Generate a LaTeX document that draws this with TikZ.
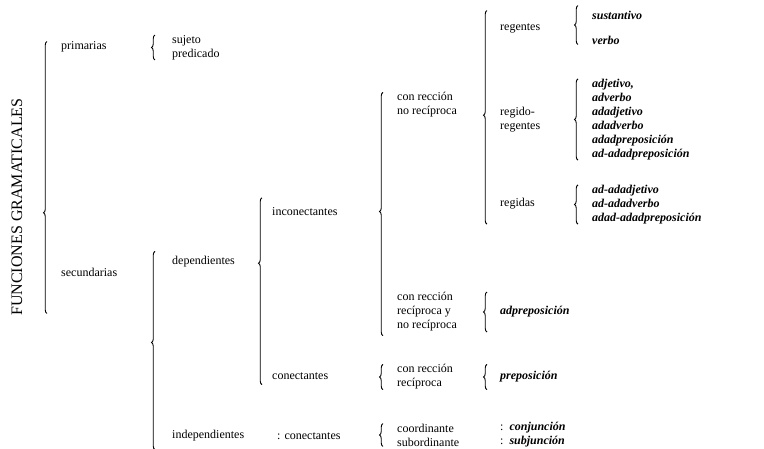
\documentclass[tikz,border=0pt]{standalone}
\usepackage{fontspec}
\setmainfont{Liberation Serif}
\usetikzlibrary{decorations.pathreplacing,calc}

\tikzset{
  etiq/.style={anchor=west, inner sep=0pt, align=left, font=\fontsize{12}{14}\selectfont},
  clase/.style={etiq, font=\fontsize{12}{14}\selectfont\bfseries\itshape},
  llave/.style={decorate, decoration={brace, amplitude=3.5pt, aspect=#1}, line width=0.9pt},
  llave/.default=0.5
}

\begin{document}
\begin{tikzpicture}[x=1pt, y=-1pt]
\useasboundingbox (0,0) rectangle (764,448);
% etiquetas
\node[etiq, anchor=center, rotate=90, font=\fontsize{16}{16}\selectfont] (func) at (17,207) {FUNCIONES GRAMATICALES};
\node[etiq] (prim) at (61,47) {primarias};
\node[etiq] (secu) at (61,272) {secundarias};
\node[etiq] (suje) at (172,47.5) {sujeto\\predicado};
\node[etiq] (depe) at (172,262) {dependientes};
\node[etiq] (inde) at (172,436) {independientes};
\node[etiq] (inco) at (272,212) {inconectantes};
\node[etiq] (cone) at (272,376) {conectantes};
\node[etiq] (icon) at (277,436) {: conectantes};
\node[etiq] (cnr)  at (397,105) {con rección\\no recíproca};
\node[etiq] (cryn) at (397,312) {con rección\\recíproca y\\no recíproca};
\node[etiq] (crr)  at (397,377) {con rección\\recíproca};
\node[etiq] (coor) at (397,435) {coordinante\\subordinante};
\node[etiq] (rege) at (500,28) {regentes};
\node[etiq] (rere) at (500,120) {regido-\\regentes};
\node[etiq] (regi) at (500,204) {regidas};
\node[clase] (adpr) at (500,312) {adpreposición};
\node[clase] (prep) at (500,377) {preposición};
\node[clase] (conj) at (500,435) {{\normalfont:}\ \ conjunción\\{\normalfont:}\ \ subjunción};
\node[clase] (sust) at (592,27.5) {sustantivo\\[11pt]verbo};
\node[clase] (adje) at (592,119.5) {adjetivo,\\adverbo\\adadjetivo\\adadverbo\\adadpreposición\\ad-adadpreposición};
\node[clase] (adad) at (592,204.5) {ad-adadjetivo\\ad-adadverbo\\adad-adadpreposición};
% llaves
\draw[llave=0.37] ($(prim.west |- secu.south)+(-14,37)$) -- ($(prim.north west)+(-14,0)$);
\draw[llave] ($(suje.south west)+(-17,0)$) -- ($(suje.north west)+(-17,0)$);
\draw[llave=0.54] ($(inde.south west)+(-17,8)$) -- ($(depe.north west)+(-17,-5)$);
\draw[llave=0.65] ($(cone.south west)+(-10,5)$) -- ($(inco.north west)+(-10,-10)$);
\draw[llave=0.51] ($(cnr.west |- cryn.south)+(-14,4)$) -- ($(cnr.north west)+(-14,0)$);
\draw[llave] ($(crr.south west)+(-14,0)$) -- ($(crr.north west)+(-14,0)$);
\draw[llave] ($(coor.south west)+(-14,0)$) -- ($(coor.north west)+(-14,0)$);
\draw[llave=0.51] ($(rege.west |- adad.south)+(-13,0)$) -- ($(rege.west |- sust.north)+(-13,0)$);
\draw[llave] ($(adpr.west)+(-13,20)$) -- ($(adpr.west)+(-13,-20)$);
\draw[llave] ($(prep.west |- crr.south)+(-13,0)$) -- ($(prep.west |- crr.north)+(-13,0)$);
\draw[llave] ($(sust.south west)+(-14,0)$) -- ($(sust.north west)+(-14,-5)$);
\draw[llave] ($(adje.south west)+(-14,0)$) -- ($(adje.north west)+(-14,0)$);
\draw[llave] ($(adad.south west)+(-14,0)$) -- ($(adad.north west)+(-14,0)$);
\end{tikzpicture}
\end{document}
